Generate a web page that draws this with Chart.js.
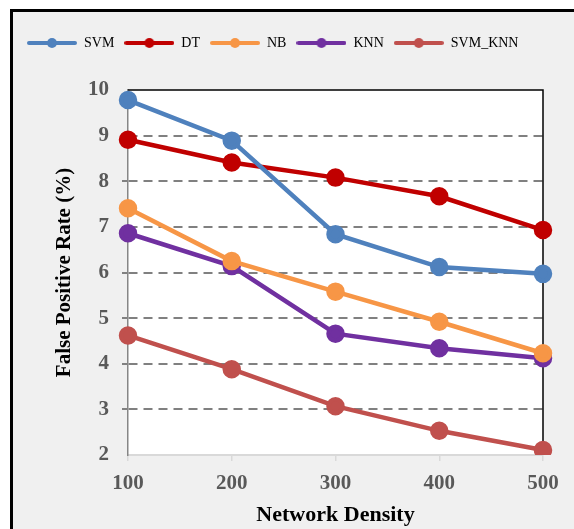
<!DOCTYPE html>
<html>
<head>
<meta charset="utf-8">
<script src="https://cdn.jsdelivr.net/npm/chart.js@4/dist/chart.umd.min.js"></script>
<style>
  html, body { margin: 0; padding: 0; background: #fff; }
  #wrap { position: absolute; left: 0; top: 0; width: 574px; height: 529px; }
</style>
</head>
<body>
<div id="wrap"><canvas id="chart" width="574" height="529"></canvas></div>
<script>
const densities = ["100", "200", "300", "400", "500"];
const svm    = [9.78, 8.89, 6.84, 6.12, 5.97];
const dt     = [8.91, 8.41, 8.08, 7.67, 6.93];
const nb     = [7.41, 6.25, 5.58, 4.92, 4.23];
const knn    = [6.86, 6.14, 4.66, 4.34, 4.12];
const svmKnn = [4.62, 3.88, 3.07, 2.53, 2.11];

const SERIF = "'Liberation Serif', 'Times New Roman', serif";

// legend marker: short line with a dot in the middle
function legendMark(color) {
  const c = document.createElement('canvas');
  c.width = 50; c.height = 12;
  const g = c.getContext('2d');
  g.strokeStyle = color; g.lineWidth = 4; g.lineCap = 'round';
  g.beginPath(); g.moveTo(2, 6); g.lineTo(48, 6); g.stroke();
  g.fillStyle = color;
  g.beginPath(); g.arc(25, 6, 5, 0, Math.PI * 2); g.fill();
  return c;
}

function series(label, data, color) {
  return {
    label, data,
    borderColor: color, backgroundColor: color,
    borderWidth: 4.5, pointRadius: 7, pointHoverRadius: 7,
    pointStyle: 'circle', tension: 0
  };
}

// frame + white plot area + black top/right edge
const frame = {
  id: 'frame',
  beforeInit(chart) {
    const fit = chart.legend.fit;
    chart.legend.fit = function () {
      fit.call(this);
      this.height += 30;
    };
  },
  beforeDraw(chart) {
    const ctx = chart.ctx, a = chart.chartArea;
    ctx.save();
    ctx.fillStyle = '#fff';
    ctx.fillRect(0, 0, chart.width, chart.height);
    ctx.fillStyle = '#f0f0f0';
    ctx.fillRect(11, 10, chart.width, chart.height);
    ctx.fillStyle = '#000';
    ctx.fillRect(10, 9, chart.width, 3);
    ctx.fillRect(10, 9, 3, chart.height);
    ctx.fillStyle = '#fff';
    ctx.fillRect(a.left, a.top, a.right - a.left, a.bottom - a.top);
    ctx.restore();
  },
  beforeDatasetsDraw(chart) {
    const ctx = chart.ctx, a = chart.chartArea;
    ctx.save();
    ctx.strokeStyle = '#000'; ctx.lineWidth = 1.5;
    ctx.beginPath();
    ctx.moveTo(a.left, a.top); ctx.lineTo(a.right, a.top); ctx.lineTo(a.right, a.bottom);
    ctx.stroke();
    ctx.restore();
  }
};

new Chart(document.getElementById('chart'), {
  type: 'line',
  data: {
    labels: densities,
    datasets: [
      series('SVM', svm, '#4f81bd'),
      series('DT', dt, '#c00000'),
      series('NB', nb, '#f79646'),
      series('KNN', knn, '#7030a0'),
      series('SVM_KNN', svmKnn, '#c0504d')
    ]
  },
  options: {
    responsive: false,
    animation: false,
    layout: { padding: { top: 26, left: 17, right: 31, bottom: 0 } },
    plugins: {
      legend: {
        position: 'top',
        align: 'start',
        labels: {
          usePointStyle: true,
          pointStyleWidth: 50,
          font: { family: SERIF, size: 14 },
          color: '#000',
          padding: 10,
          boxHeight: 12,
          generateLabels(chart) {
            return Chart.defaults.plugins.legend.labels.generateLabels(chart).map(l => {
              l.pointStyle = legendMark(chart.data.datasets[l.datasetIndex].borderColor);
              return l;
            });
          }
        }
      },
      tooltip: { enabled: false }
    },
    scales: {
      x: {
        offset: false,
        afterFit(scale) { scale.height = 74; },
        grid: { drawOnChartArea: false, tickLength: 6, color: '#d9d9d9', lineWidth: 1.5 },
        border: { color: '#d9d9d9', width: 2 },
        ticks: { font: { family: SERIF, size: 21, weight: 'bold' }, color: '#595959', padding: 10, maxRotation: 0 },
        title: { display: true, text: 'Network Density', font: { family: SERIF, size: 22, weight: 'bold' }, color: '#000', padding: { top: 0, bottom: 0 } }
      },
      y: {
        min: 2, max: 10,
        afterFit(scale) { scale.width = 111; },
        ticks: { stepSize: 1, font: { family: SERIF, size: 21, weight: 'bold' }, color: '#595959', padding: 13 },
        grid: {
          tickLength: 6,
          lineWidth: 2,
          color: c => (c.tick && (c.tick.value === 2 || c.tick.value === 10)) ? 'rgba(0,0,0,0)' : '#808080'
        },
        border: { color: '#868686', width: 1.5, dash: [9, 6] },
        title: { display: true, text: 'False Positive Rate (%)', font: { family: SERIF, size: 21, weight: 'bold' }, color: '#000', padding: { top: 35, bottom: 0 } }
      }
    }
  },
  plugins: [frame]
});
</script>
</body>
</html>
